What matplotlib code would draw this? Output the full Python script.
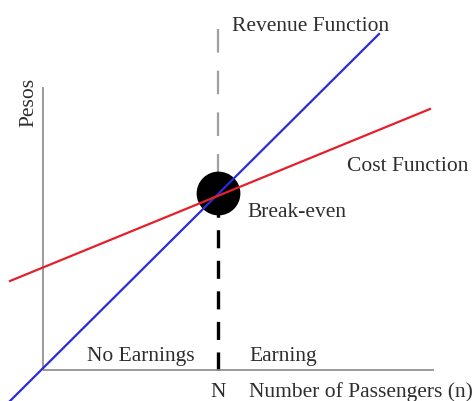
import matplotlib
matplotlib.use("Agg")
import matplotlib.pyplot as plt

plt.rcParams['font.family'] = ['Liberation Serif', 'DejaVu Serif']
plt.rcParams['lines.scale_dashes'] = False

# Data (passengers n, pesos)
revenue_n = [-33, 336]
revenue_pesos = [-31, 336]
cost_n = [-33, 387]
cost_pesos = [89, 261]
break_even_n = 175.5
break_even_pesos = 177
x_axis_n = [0, 391]
y_axis_pesos = [0, 283]

fig = plt.figure(figsize=(4.77, 4.02), dpi=100)
ax = fig.add_axes([0, 0, 1, 1])
ax.set_xlim(-43, 434)
ax.set_ylim(-31, 371)
ax.axis('off')

# axes lines
ax.plot(x_axis_n, [0, 0], color='#8a8a8a', lw=1.2, solid_capstyle='butt')
ax.plot([0, 0], y_axis_pesos, color='#8a8a8a', lw=1.2, solid_capstyle='butt')

# vertical N line: grey above, black dashed below
ax.plot([break_even_n, break_even_n], [341, break_even_pesos], color='#a0a0a0',
        lw=1.6, dashes=(17, 13), zorder=1)
ax.plot([break_even_n, break_even_n], [0, break_even_pesos], color='black',
        lw=2.4, dashes=(13, 9), zorder=1)

# break-even circle
ax.plot([break_even_n], [break_even_pesos], marker='o', markersize=30.5,
        color='black', zorder=2)

# lines
ax.plot(revenue_n, revenue_pesos, color='#2b2bd8', lw=1.6, zorder=3)
ax.plot(cost_n, cost_pesos, color='#e4202a', lw=1.6, zorder=3)

tc = '#2e2e2e'
fs = 15.5
ax.text(189, 340, 'Revenue Function', fontsize=fs, color=tc, ha='left', va='baseline')
ax.text(304, 200, 'Cost Function', fontsize=fs, color=tc, ha='left', va='baseline')
ax.text(204, 154, 'Break-even', fontsize=fs, color=tc, ha='left', va='baseline')
ax.text(44, 9.5, 'No Earnings', fontsize=fs, color=tc, ha='left', va='baseline')
ax.text(206, 10, 'Earning', fontsize=fs, color=tc, ha='left', va='baseline')
ax.text(break_even_n, -26, 'N', fontsize=fs, color=tc, ha='center', va='baseline')
ax.text(206, -26, 'Number of Passengers (n)', fontsize=fs, color=tc, ha='left', va='baseline')
ax.text(-14, 269, 'Pesos', fontsize=fs, color=tc, ha='center', va='center', rotation=90)

fig.savefig('out.png', dpi=100)
